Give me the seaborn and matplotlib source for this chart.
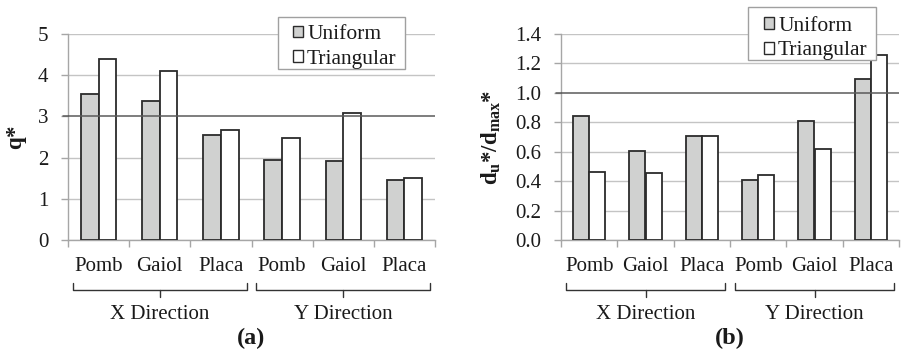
import numpy as np
import pandas as pd
import matplotlib
matplotlib.use("Agg")
import matplotlib.pyplot as plt
from matplotlib.patches import Patch, Rectangle
import seaborn as sns

# Categories (direction / floor system) and load patterns
directions = ["X Direction", "X Direction", "X Direction",
              "Y Direction", "Y Direction", "Y Direction"]
systems = ["Pomb", "Gaiol", "Placa", "Pomb", "Gaiol", "Placa"]
patterns = ["Uniform", "Triangular"]

# (a) behaviour factor q*
q_uniform = [3.54, 3.37, 2.54, 1.95, 1.92, 1.45]
q_triangular = [4.39, 4.11, 2.66, 2.48, 3.09, 1.50]

# (b) ratio of ultimate to maximum displacement
d_uniform = [0.845, 0.607, 0.705, 0.406, 0.807, 1.097]
d_triangular = [0.464, 0.453, 0.707, 0.444, 0.616, 1.260]

keys = [f"{d[0]}-{s}" for d, s in zip(directions, systems)]


def long_table(uni, tri):
    return pd.DataFrame({
        "key": keys * 2,
        "pattern": ["Uniform"] * 6 + ["Triangular"] * 6,
        "value": list(uni) + list(tri),
    })


sns.set_theme(style="white")
plt.rcParams["font.family"] = ["Liberation Serif", "DejaVu Serif"]
plt.rcParams["mathtext.fontset"] = "custom"
plt.rcParams["mathtext.rm"] = "Liberation Serif"
plt.rcParams["mathtext.bf"] = "Liberation Serif:bold"
plt.rcParams["mathtext.it"] = "Liberation Serif:italic"

TEXT = "#1a1a1a"
GRID = "#c4c4c4"
SPINE = "#a6a6a6"
FS = 15
LEG_FS = 15.5
palette = {"Uniform": "#d0d1d0", "Triangular": "#ffffff"}

fig = plt.figure(figsize=(9.08, 3.55), dpi=100)
W, H = 908, 355


def px_axes(x0, y0, x1, y1):
    return fig.add_axes([x0 / W, 1 - y1 / H, (x1 - x0) / W, (y1 - y0) / H])


ax_a = px_axes(68, 34, 435, 240)
ax_b = px_axes(561, 34, 899, 240)

# legend boxes in pixels: frame (x0, y0, x1, y1), square left edge, row centre
panels = [
    (ax_a, long_table(q_uniform, q_triangular), 5, np.arange(0, 6, 1), "{:.0f}", 3,
     r"$\mathbf{q}$*", -0.14, "(a)", (278, 17, 405, 69), 293, 47),
    (ax_b, long_table(d_uniform, d_triangular), 1.4, np.arange(0, 1.41, 0.2), "{:.1f}", 1.0,
     r"$\mathbf{d_u}$*/$\mathbf{d_{max}}$*", -0.205, "(b)", (748, 7, 876, 60), 764, 38.5),
]

for (ax, df, ymax, yticks, fmt, refline, ylabel, ylab_x, tag,
     frame, sq_x, leg_y) in panels:
    sns.barplot(data=df, x="key", y="value", hue="pattern", order=keys,
                hue_order=patterns, palette=palette, width=0.575, gap=0,
                edgecolor="#2b2b2b", linewidth=1.3, legend=False, ax=ax,
                errorbar=None, zorder=3)

    ax.set_xlim(-0.5, 5.5)
    ax.set_ylim(0, ymax)
    ax.set_yticks(yticks)
    ax.set_yticklabels([fmt.format(v) for v in yticks])
    ax.set_xticks(range(6))
    ax.set_xticklabels(systems)
    ax.set_xticks(np.arange(-0.5, 6, 1), minor=True)
    ax.set_xlabel("")
    ax.set_ylabel("")

    # horizontal gridlines, with a darker reference line
    for v in yticks:
        if abs(v - refline) < 1e-9:
            continue
        ax.axhline(v, color=GRID, lw=1.0, zorder=1)
    ax.axhline(refline, color="#5a5a5a", lw=1.1, zorder=4)
    ax.plot([-0.5 - 5 / 61.2, -0.5], [refline, refline], color="#5a5a5a", lw=1.1,
            clip_on=False, zorder=4)

    for side in ["top", "right"]:
        ax.spines[side].set_visible(False)
    for side in ["left", "bottom"]:
        ax.spines[side].set_color(SPINE)
        ax.spines[side].set_linewidth(1.0)

    ax.tick_params(axis="y", which="major", length=5, width=1.0, color=SPINE,
                   direction="out", left=True, pad=9, labelsize=FS, labelcolor=TEXT)
    ax.tick_params(axis="x", which="major", length=0, pad=12.5, labelsize=FS, labelcolor=TEXT)
    ax.tick_params(axis="x", which="minor", length=5, width=1.0, color=SPINE,
                   direction="out", bottom=True)

    ax.set_ylabel(ylabel, fontsize=16.5, fontweight="bold", color=TEXT)
    ax.yaxis.label.set_va("center")
    ax.yaxis.set_label_coords(ylab_x, 0.5)

    # group brackets under the category labels
    tr = ax.get_xaxis_transform()
    for x0, x1, name in [(-0.42, 2.42, "X Direction"), (2.58, 5.42, "Y Direction")]:
        xc = (x0 + x1) / 2
        ax.plot([x0, x0, x1, x1], [-0.209, -0.245, -0.245, -0.209], color="#333333",
                lw=1.0, transform=tr, clip_on=False)
        ax.plot([xc, xc], [-0.245, -0.275], color="#333333", lw=1.0,
                transform=tr, clip_on=False)
        ax.text(xc, -0.36, name, transform=tr, ha="center", va="center",
                fontsize=FS, color=TEXT)

    ax.text(0.5, -0.48, tag, transform=ax.transAxes, ha="center", va="center",
            fontsize=17.5, fontweight="bold", color=TEXT)

    # legend: framed box with small square swatches
    fx0, fy0, fx1, fy1 = frame
    fig.patches.append(Rectangle((fx0 / W, 1 - fy1 / H), (fx1 - fx0) / W, (fy1 - fy0) / H,
                                 transform=fig.transFigure, facecolor="white",
                                 edgecolor="#a0a0a0", linewidth=1.0, zorder=5))
    handles = [Patch(facecolor=palette[p], edgecolor="#2b2b2b", linewidth=1.0, label=p)
               for p in patterns]
    leg = fig.legend(handles=handles, loc="center left",
                     bbox_to_anchor=(sq_x / W, 1 - leg_y / H),
                     fontsize=LEG_FS, frameon=False, handlelength=0.465,
                     handleheight=0.465, handletextpad=0.19, borderpad=0,
                     labelspacing=0.26, borderaxespad=0)
    leg.set_zorder(6)
    for t in leg.get_texts():
        t.set_color(TEXT)

fig.savefig("out.png", dpi=100)
